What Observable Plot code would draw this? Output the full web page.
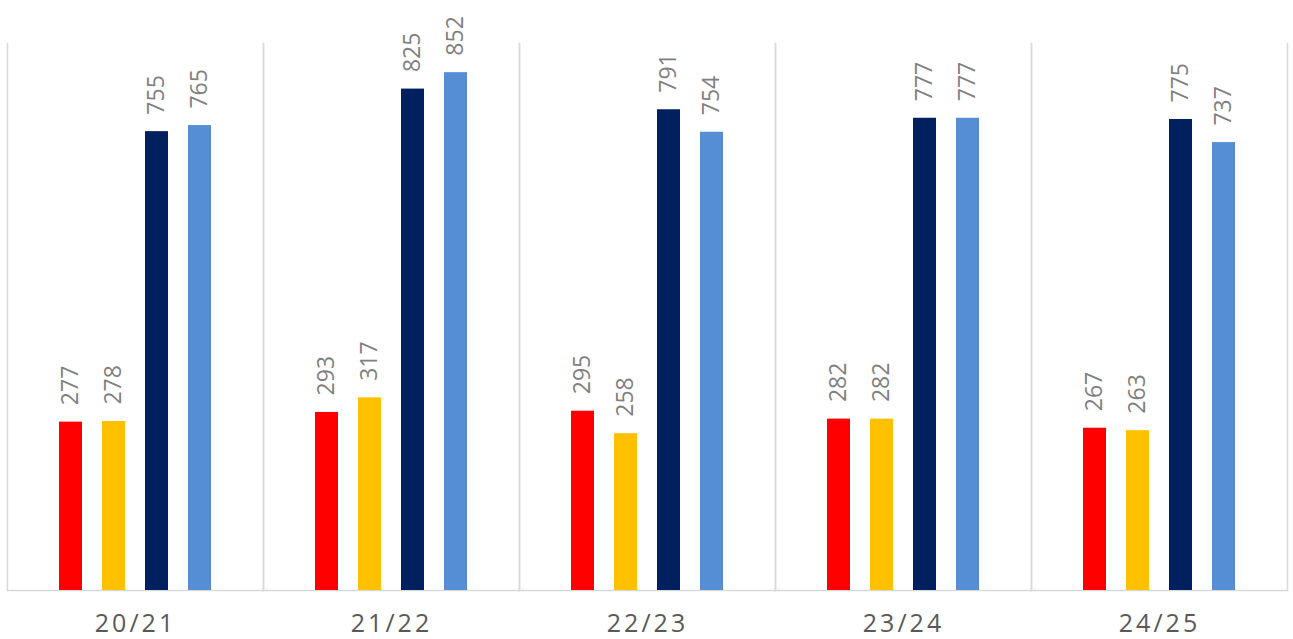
<!DOCTYPE html>
<html>
<head>
<meta charset="utf-8">
<script src="https://cdn.jsdelivr.net/npm/d3@7"></script>
<script src="https://cdn.jsdelivr.net/npm/@observablehq/plot@0.6"></script>
<style>
  html, body { margin: 0; padding: 0; background: #fff; }
  #chart svg [aria-label="fx-axis tick label"] text { letter-spacing: 3px; }
</style>
</head>
<body>
<div id="chart"></div>
<script>
const seasons = ["20/21", "21/22", "22/23", "23/24", "24/25"];
const seriesNames = ["S1", "S2", "S3", "S4"];
const seriesColors = ["#FF0000", "#FFC000", "#002060", "#558ED5"];
const s1 = [277, 293, 295, 282, 267];
const s2 = [278, 317, 258, 282, 263];
const s3 = [755, 825, 791, 777, 775];
const s4 = [765, 852, 754, 777, 737];
const allSeries = [s1, s2, s3, s4];

const data = [];
seasons.forEach((g, i) => {
  allSeries.forEach((vals, j) => {
    data.push({season: g, series: seriesNames[j], value: vals[i]});
  });
});

const plot = Plot.plot({
  width: 1293,
  height: 639,
  marginTop: 43,
  marginBottom: 49,
  marginLeft: 7,
  marginRight: 6,
  style: {fontFamily: "'Open Sans', sans-serif", background: "#fff"},
  fx: {domain: seasons, paddingInner: 0, paddingOuter: 0, label: null, axis: null},
  x: {domain: seriesNames, paddingInner: 0.474, paddingOuter: 1.17, axis: null},
  y: {domain: [0, 900], axis: null},
  color: {domain: seriesNames, range: seriesColors},
  marks: [
    Plot.frame({anchor: "left", stroke: "#d9d9d9", strokeWidth: 1.5}),
    Plot.frame({anchor: "right", stroke: "#d9d9d9", strokeWidth: 1.5}),
    Plot.ruleY([0], {stroke: "#d9d9d9", strokeWidth: 1.5}),
    Plot.barY(data, {fx: "season", x: "series", y: "value", fill: "series"}),
    Plot.text(data, {
      fx: "season", x: "series", y: "value",
      text: d => String(d.value),
      rotate: -90, textAnchor: "start", lineAnchor: "middle",
      dy: -17, fontSize: 23, fill: "#7f7f7f"
    }),
    Plot.axisFx({
      anchor: "bottom", tickSize: 0, tickPadding: 24, label: null,
      fontSize: 25, fill: "#595959"
    })
  ]
});
document.getElementById("chart").appendChild(plot);
</script>
</body>
</html>
